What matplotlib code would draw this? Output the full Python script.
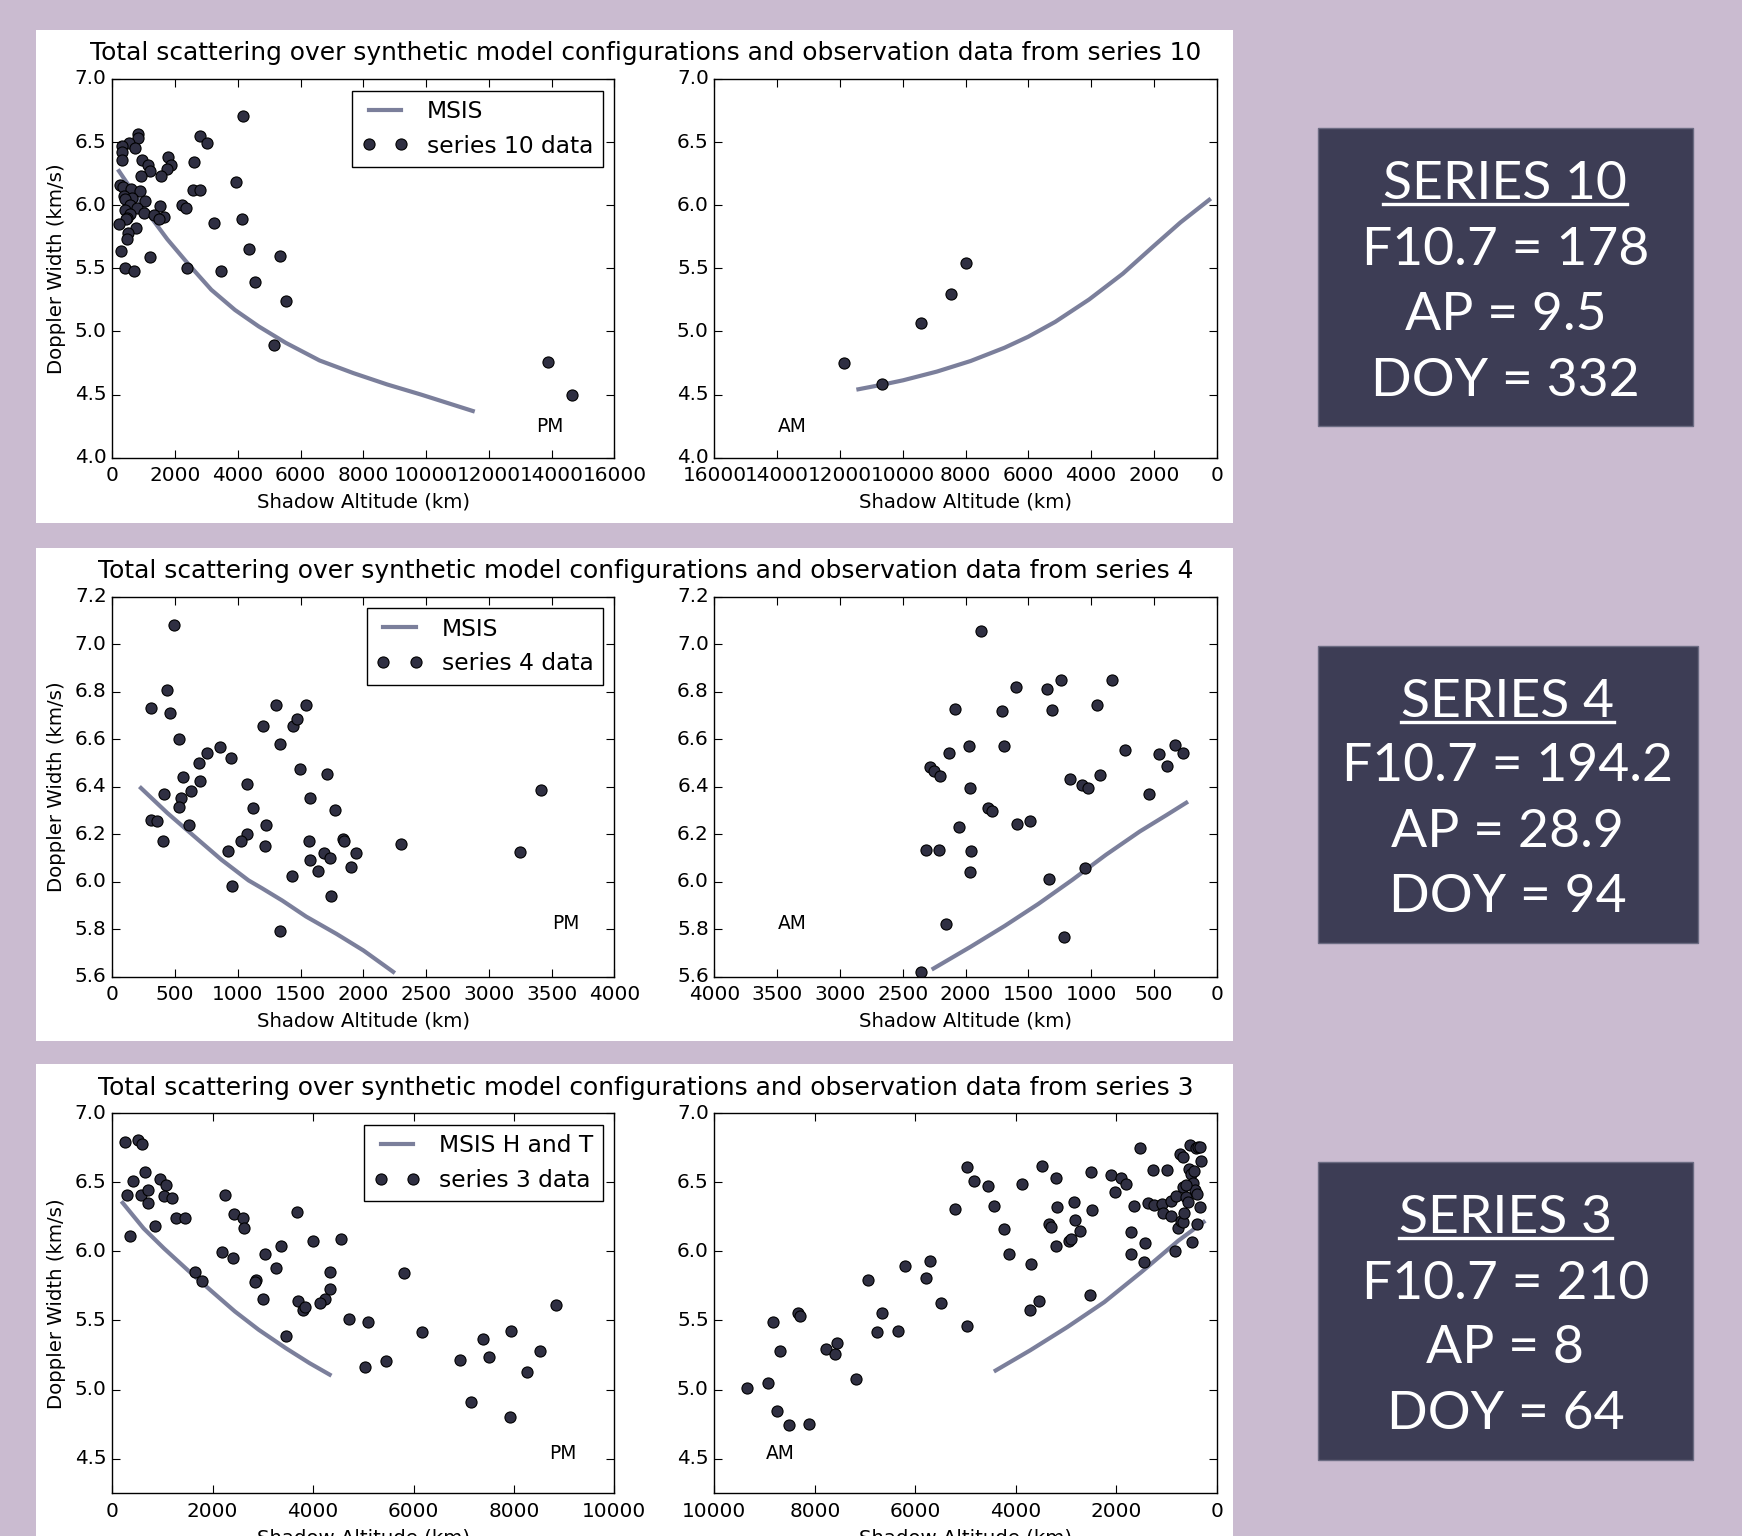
import matplotlib
matplotlib.use('Agg')
import matplotlib.pyplot as plt
from matplotlib.patches import Rectangle
from matplotlib.lines import Line2D
import numpy as np

plt.style.use('classic')

# ---------------- data ----------------
# Series 10
s10_pm_x = [4166, 820, 807, 2800, 3007, 521, 716, 325, 300, 300, 963, 1146, 1211, 1770, 1875,
            1757, 2604, 1549, 911, 3958, 2565, 2786, 260, 351, 612, 898, 390, 638, 417, 1055,
            560, 794, 404, 1029, 573, 482, 443, 1510, 1341, 1640, 1497, 2226, 2344, 221, 755,
            3229, 4127, 508, 482, 273, 1211, 4348, 5338, 404, 690, 2396, 3463, 4557, 5533, 5155,
            13891, 14659]
s10_pm_y = [6.71, 6.56, 6.53, 6.545, 6.49, 6.49, 6.45, 6.47, 6.42, 6.36, 6.36, 6.32, 6.27, 6.38, 6.32,
            6.29, 6.34, 6.23, 6.23, 6.18, 6.12, 6.12, 6.16, 6.14, 6.13, 6.11, 6.07, 6.06, 6.05, 6.03,
            6.00, 5.98, 5.96, 5.94, 5.93, 5.90, 5.89, 5.99, 5.92, 5.91, 5.89, 6.00, 5.98, 5.85, 5.82,
            5.86, 5.89, 5.78, 5.73, 5.64, 5.59, 5.65, 5.60, 5.50, 5.48, 5.50, 5.48, 5.39, 5.24, 4.89,
            4.76, 4.50]
msis10_pm_x = [216, 679, 1218, 1756, 2403, 3157, 3912, 4666, 5528, 6606, 7683, 8761, 9838, 11487]
msis10_pm_y = [6.27, 6.10, 5.91, 5.73, 5.54, 5.33, 5.17, 5.04, 4.91, 4.77, 4.67, 4.58, 4.50, 4.37]
s10_am_x = [7970, 8455, 9423, 11867, 10651]
s10_am_y = [5.54, 5.30, 5.07, 4.75, 4.58]
msis10_am_x = [11412, 10636, 9989, 8912, 7834, 6756, 6002, 5140, 4062, 2985, 2015, 1153, 237]
msis10_am_y = [4.542, 4.579, 4.613, 4.682, 4.766, 4.871, 4.958, 5.076, 5.253, 5.458, 5.674, 5.863,
               6.042]

# Series 4
s4_pm_x = [491, 309, 439, 459, 530, 752, 859, 693, 944, 563, 703, 410, 550, 625, 530, 312, 358, 612,
           407, 1305, 1546, 1198, 1442, 1468, 1338, 1497, 1712, 1074, 1120, 1572, 1774, 1224, 1221,
           1074, 1025, 924, 1565, 1572, 1689, 1732, 1839, 1845, 1943, 1904, 1640, 1429, 1745, 957,
           1335, 2301, 3417, 3248]
s4_pm_y = [7.08, 6.73, 6.805, 6.71, 6.60, 6.54, 6.565, 6.50, 6.52, 6.44, 6.425, 6.37, 6.35, 6.38,
           6.315, 6.26, 6.255, 6.24, 6.17, 6.745, 6.745, 6.655, 6.655, 6.685, 6.58, 6.475, 6.455,
           6.41, 6.31, 6.35, 6.30, 6.24, 6.15, 6.20, 6.17, 6.13, 6.17, 6.09, 6.12, 6.10, 6.18, 6.17,
           6.12, 6.06, 6.045, 6.025, 5.94, 5.98, 5.79, 6.16, 6.385, 6.125]
msis4_pm_x = [229, 439, 655, 870, 1086, 1193, 1355, 1544, 1786, 2001, 2238]
msis4_pm_y = [6.394, 6.289, 6.190, 6.092, 6.005, 5.972, 5.920, 5.853, 5.780, 5.710, 5.620]
s4_am_x = [1877, 832, 1240, 1594, 1349, 2087, 1712, 1308, 951, 1972, 1697, 2134, 726, 328, 460, 269,
           396, 2285, 2250, 2205, 1963, 1169, 1072, 1024, 930, 540, 1818, 1786, 2055, 1591, 1485,
           2314, 2211, 1954, 1963, 1048, 1331, 2155, 1213, 2353]
s4_am_y = [7.054, 6.85, 6.847, 6.82, 6.81, 6.726, 6.72, 6.723, 6.743, 6.572, 6.569, 6.542, 6.556,
           6.575, 6.536, 6.543, 6.488, 6.481, 6.465, 6.444, 6.396, 6.434, 6.408, 6.393, 6.45, 6.367,
           6.31, 6.299, 6.228, 6.241, 6.257, 6.133, 6.133, 6.127, 6.042, 6.057, 6.011, 5.821, 5.765,
           5.621]
msis4_am_x = [2255, 1958, 1689, 1420, 1150, 881, 612, 396, 242]
msis4_am_y = [5.634, 5.726, 5.813, 5.906, 6.007, 6.113, 6.211, 6.281, 6.332]

# Series 3
s3_pm_x = [260, 513, 594, 651, 407, 301, 578, 708, 716, 952, 1074, 1025, 1196, 350, 846, 1277, 1440,
           2246, 2425, 2596, 2628, 2189, 2408, 3043, 3352, 3255, 2864, 2848, 2994, 3670, 4003, 4548,
           4329, 4345, 4239, 4133, 3702, 3808, 3849, 1644, 1798, 3458, 4711, 5102, 5810, 6160, 5028,
           5452, 6933, 7380, 7502, 7950, 7152, 7925, 8527, 8259, 8837]
s3_pm_y = [6.788, 6.808, 6.774, 6.577, 6.507, 6.41, 6.408, 6.442, 6.348, 6.524, 6.483, 6.398, 6.384,
           6.112, 6.187, 6.244, 6.239, 6.406, 6.273, 6.24, 6.167, 5.994, 5.953, 5.982, 6.038, 5.881,
           5.795, 5.778, 5.657, 6.288, 6.076, 6.086, 5.852, 5.725, 5.655, 5.626, 5.643, 5.576, 5.595,
           5.852, 5.785, 5.39, 5.511, 5.492, 5.84, 5.413, 5.164, 5.21, 5.215, 5.367, 5.239, 5.423,
           4.909, 4.798, 5.278, 5.129, 5.614]
msis3_pm_x = [209, 626, 1030, 1502, 1973, 2444, 2916, 3455, 3926, 4330]
msis3_pm_y = [6.351, 6.166, 6.022, 5.865, 5.714, 5.565, 5.433, 5.300, 5.192, 5.108]
s3_am_x = [9351, 8937, 8827, 8686, 8760, 8524, 8118, 8339, 8303, 7771, 7594, 7550, 7188, 6937, 6768,
           6664, 6347, 6214, 5779, 5712, 5483, 5210, 4974, 4834, 4974, 4554, 4428, 4236, 4133, 3875,
           3690, 3483, 3720, 3535, 3336, 3306, 3188, 3173, 3188, 2937, 2893, 2841, 2827, 2723, 2502,
           2487, 2524, 2111, 2015, 1897, 1801, 1646, 1697, 1697, 1528, 1454, 1417, 1365, 1269, 1240,
           1085, 1070, 982, 915, 908, 834, 812, 760, 738, 716, 672, 672, 664, 642, 613, 576, 554, 539,
           509, 487, 465, 458, 435, 413, 391, 376, 339, 391, 332, 310, 613]
s3_am_y = [5.013, 5.051, 5.489, 5.282, 4.846, 4.743, 4.75, 5.556, 5.535, 5.29, 5.26, 5.337, 5.075,
           5.795, 5.417, 5.554, 5.426, 5.891, 5.809, 5.929, 5.628, 6.309, 6.613, 6.509, 5.462, 6.47,
           6.326, 6.163, 5.982, 6.49, 5.912, 6.615, 5.576, 5.643, 6.201, 6.173, 6.533, 6.319, 6.042,
           6.076, 6.086, 6.355, 6.225, 6.151, 6.572, 6.298, 5.684, 6.553, 6.427, 6.531, 6.487, 6.329,
           6.143, 5.982, 6.745, 5.922, 6.062, 6.353, 6.586, 6.334, 6.343, 6.281, 6.589, 6.254, 6.362,
           6.001, 6.403, 6.172, 6.706, 6.222, 6.685, 6.468, 6.211, 6.277, 6.397, 6.355, 6.598, 6.767,
           6.559, 6.066, 6.495, 6.584, 6.444, 6.747, 6.415, 6.757, 6.752, 6.199, 6.319, 6.651, 6.48]
msis3_am_x = [4399, 3712, 2974, 2236, 1498, 760, 258]
msis3_am_y = [5.138, 5.284, 5.452, 5.633, 5.85, 6.078, 6.213]

series_names = ['10', '4', '3']
model_labels = ['MSIS', 'MSIS', 'MSIS H and T']
data_labels = ['series 10 data', 'series 4 data', 'series 3 data']
box_lines = [['SERIES 10', 'F10.7 = 178', 'AP = 9.5', 'DOY = 332'],
             ['SERIES 4', 'F10.7 = 194.2', 'AP = 28.9', 'DOY = 94'],
             ['SERIES 3', 'F10.7 = 210', 'AP = 8', 'DOY = 64']]

# ---------------- style ----------------
W, H = 1742, 1536
BG = '#cabbd0'
BOX = '#3d3d55'
DOT = '#2f2f42'
LINE = '#7b7f9b'

fig = plt.figure(figsize=(W / 100, H / 100), dpi=100, facecolor=BG)


def rect_px(l, t, r, b):
    return [l / W, 1 - b / H, (r - l) / W, (b - t) / H]


white_tb = [(30, 523.3), (547.7, 1041), (1064.3, 1600)]
axes_tb = [(78.9, 457.7), (596.6, 976.6), (1113.2, 1493.2)]
title_y = [53, 571, 1087.5]
left_lr = (112.2, 614.4)
right_lr = (714.4, 1216.6)

pm_data = [(msis10_pm_x, msis10_pm_y, s10_pm_x, s10_pm_y),
           (msis4_pm_x, msis4_pm_y, s4_pm_x, s4_pm_y),
           (msis3_pm_x, msis3_pm_y, s3_pm_x, s3_pm_y)]
am_data = [(msis10_am_x, msis10_am_y, s10_am_x, s10_am_y),
           (msis4_am_x, msis4_am_y, s4_am_x, s4_am_y),
           (msis3_am_x, msis3_am_y, s3_am_x, s3_am_y)]
xmax = [16000, 4000, 10000]
xstep = [2000, 500, 2000]
ylims = [(4.0, 7.0), (5.6, 7.2), (4.25, 7.0)]
ystep = [0.5, 0.2, 0.5]
ystart = [4.0, 5.6, 4.5]
pm_pos = [(0.872, 0.082), (0.903, 0.140), (0.898, 0.105)]
am_pos = [(0.155, 0.082), (0.155, 0.140), (0.131, 0.105)]

TICK_FS = 14.4
LABEL_FS = 14.2
TITLE_FS = 17.9
LEG_FS = 16.8
TAG_FS = 13.4
LW = 3.0
MS = 8


def style_axes(ax, i, inverted):
    if inverted:
        ax.set_xlim(xmax[i], 0)
    else:
        ax.set_xlim(0, xmax[i])
    ax.set_ylim(*ylims[i])
    ax.set_xticks(np.arange(0, xmax[i] + 1, xstep[i]))
    yt = np.arange(ystart[i], ylims[i][1] + 1e-6, ystep[i])
    ax.set_yticks(yt)
    ax.set_yticklabels(['%.1f' % v for v in yt])
    ax.tick_params(labelsize=TICK_FS, direction='in', top=True, right=True,
                   length=6, width=0.8)
    ax.tick_params(axis='x', pad=6)
    ax.tick_params(axis='y', pad=4)
    ax.set_xlabel('Shadow Altitude (km)', fontsize=LABEL_FS, labelpad=5.5)
    for s in ax.spines.values():
        s.set_linewidth(1.0)


for i in range(3):
    wt, wb = white_tb[i]
    fig.add_artist(Rectangle((35.6 / W, 1 - wb / H), (1233.2 - 35.6) / W, (wb - wt) / H,
                             transform=fig.transFigure, facecolor='white', edgecolor='none',
                             zorder=-5))
    fig.text(646 / W, 1 - title_y[i] / H,
             'Total scattering over synthetic model configurations and observation data from series '
             + series_names[i], ha='center', va='center', fontsize=TITLE_FS, color='black')
    at, ab = axes_tb[i]
    # PM
    axl = fig.add_axes(rect_px(left_lr[0], at, left_lr[1], ab))
    mx, my, dx, dy = pm_data[i]
    axl.plot(mx, my, '-', color=LINE, lw=LW, label=model_labels[i])
    axl.plot(dx, dy, 'o', mfc=DOT, mec='black', mew=0.8, ms=MS, label=data_labels[i])
    style_axes(axl, i, False)
    axl.set_ylabel('Doppler Width (km/s)', fontsize=LABEL_FS, labelpad=6)
    leg = axl.legend(loc='upper right', numpoints=2, fontsize=LEG_FS, fancybox=False,
                     borderaxespad=0.5)
    leg.get_frame().set_linewidth(1.0)
    axl.text(pm_pos[i][0], pm_pos[i][1], 'PM', transform=axl.transAxes, ha='center',
             va='center', fontsize=TAG_FS)
    # AM
    axr = fig.add_axes(rect_px(right_lr[0], at, right_lr[1], ab))
    mx, my, dx, dy = am_data[i]
    axr.plot(mx, my, '-', color=LINE, lw=LW)
    axr.plot(dx, dy, 'o', mfc=DOT, mec='black', mew=0.8, ms=MS)
    style_axes(axr, i, True)
    axr.text(am_pos[i][0], am_pos[i][1], 'AM', transform=axr.transAxes, ha='center',
             va='center', fontsize=TAG_FS)

# ---------------- info boxes ----------------
boxes = [(1317.6, 127.8, 1693.2, 425.5), (1317.6, 645.5, 1697.6, 943.3),
         (1317.6, 1162, 1693.2, 1460)]
line_centers = [[180, 245.5, 311, 376.6], [697.7, 762.2, 827.7, 893.2],
                [1214.3, 1280, 1344.3, 1410]]
BOX_FS = 38.5
cap_px = 0.7165 * BOX_FS * 100 / 72

first_texts = []
for b, lines, centers in zip(boxes, box_lines, line_centers):
    l, t, r, bt = b
    fig.add_artist(Rectangle((l / W, 1 - bt / H), (r - l) / W, (bt - t) / H,
                             transform=fig.transFigure, facecolor=BOX, edgecolor='#6b6b82',
                             lw=1, zorder=-4))
    cx = (l + r) / 2
    for k, (s, c) in enumerate(zip(lines, centers)):
        base = c + cap_px / 2
        tt = fig.text(cx / W, 1 - base / H, s, ha='center', va='baseline', color='white',
                      fontsize=BOX_FS, family=['Lato', 'DejaVu Sans'], fontweight='normal')
        if k == 0:
            first_texts.append((tt, base))

fig.canvas.draw()
renderer = fig.canvas.get_renderer()
for tt, base in first_texts:
    bb = tt.get_window_extent(renderer)
    yl = 1 - (base + 5) / H
    fig.add_artist(Line2D([bb.x0 / W, bb.x1 / W], [yl, yl], transform=fig.transFigure,
                          color='white', lw=2.4))

fig.savefig('out.png', dpi=100, facecolor=BG)
